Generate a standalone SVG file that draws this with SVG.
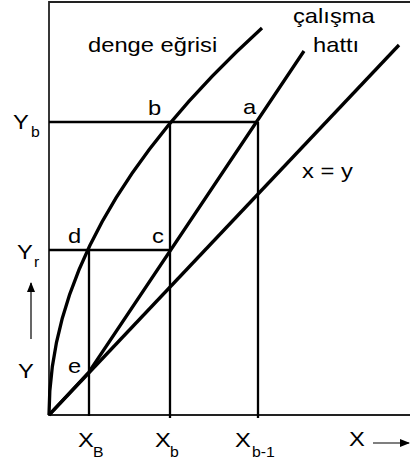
<svg xmlns="http://www.w3.org/2000/svg" width="410" height="464" viewBox="0 0 410 464">
<style>
text{font-family:"Liberation Sans",Arial,sans-serif;font-size:21px;fill:#000}
.sub{font-size:14px}
.frame{stroke:#222;stroke-width:1.8;fill:none}
.guide{stroke:#000;stroke-width:2.3;fill:none}
.curve{stroke:#000;stroke-width:3.3;fill:none;stroke-linecap:butt}
.thin{stroke:#000;stroke-width:1.2;fill:none}
</style>
<defs>
<marker id="ah" markerWidth="10" markerHeight="8" refX="9" refY="4" orient="auto" markerUnits="userSpaceOnUse">
<path d="M0,0 L10,4 L0,8 Z" fill="#000"/>
</marker>
</defs>
<rect width="410" height="464" fill="#fff"/>
<g id="axes">
<path class="frame" d="M410,2 H49 V415 H410"/>
<line class="thin" x1="31" y1="339" x2="31" y2="283" marker-end="url(#ah)"/>
<line class="thin" x1="373" y1="443" x2="409" y2="443" marker-end="url(#ah)"/>
</g>
<g id="connectors">
<path class="guide" d="M49,122 H258 M49,250 H170 M89,250 V416 M170,122 V418 M258,122 V418"/>
<path id="equilibrium" class="curve" d="M49,415 Q49,221.5 262,28"/>
<path id="operating" class="curve" d="M49,415 L89,372 L304,51"/>
<path id="diagonal" class="curve" d="M49,415 L399,45"/>
</g>
<g id="labels">
<text transform="translate(88,52) scale(1.13,1)">denge eğrisi</text>
<text transform="translate(293,23) scale(1.13,1)">çalışma</text>
<text transform="translate(313,52) scale(1.13,1)">hattı</text>
<text transform="translate(302,178) scale(1.13,1)">x = y</text>
<text transform="translate(148,115) scale(1.13,1)">b</text>
<text transform="translate(243,114) scale(1.13,1)">a</text>
<text transform="translate(68,243) scale(1.13,1)">d</text>
<text transform="translate(152,243) scale(1.13,1)">c</text>
<text transform="translate(68,373) scale(1.13,1)">e</text>
<text transform="translate(13,129) scale(1.13,1)">Y</text>
<text class="sub" transform="translate(31,137) scale(1.13,1)">b</text>
<text transform="translate(17,259) scale(1.13,1)">Y</text>
<text class="sub" transform="translate(34,267) scale(1.13,1)">r</text>
<text transform="translate(18,378) scale(1.13,1)">Y</text>
<text transform="translate(78,447) scale(1.13,1)">X</text>
<text class="sub" transform="translate(93,457) scale(1.13,1)">B</text>
<text transform="translate(155,447) scale(1.13,1)">X</text>
<text class="sub" transform="translate(170,457) scale(1.13,1)">b</text>
<text transform="translate(235,447) scale(1.13,1)">X</text>
<text class="sub" transform="translate(252,457) scale(1.13,1)">b-1</text>
<text transform="translate(349,446) scale(1.13,1)">X</text>
</g>
</svg>
